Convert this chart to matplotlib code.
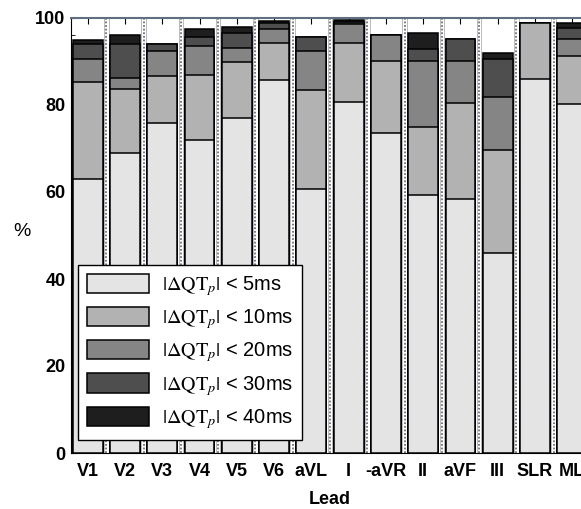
import numpy as np
import matplotlib
matplotlib.use('Agg')
from matplotlib import pyplot as plt
from matplotlib.ticker import MultipleLocator

plt.rcParams['font.family'] = ['Liberation Sans Narrow', 'Liberation Sans', 'DejaVu Sans']
plt.rcParams['mathtext.fontset'] = 'stix'

leads = ['V1', 'V2', 'V3', 'V4', 'V5', 'V6', 'aVL', 'I', '-aVR', 'II', 'aVF', 'III', 'SLR', 'ML']

# cumulative percentage of beats with |dQTp| below each threshold
lt5  = [63.1, 68.9, 75.9, 72.0, 76.9, 85.7, 60.7, 80.8, 73.6, 59.2, 58.4, 46.0, 86.0, 80.2]
lt10 = [85.3, 83.7, 86.7, 87.0, 89.9, 94.3, 83.4, 94.2, 90.0, 74.9, 80.4, 69.7, 98.8, 91.3]
lt20 = [90.5, 86.3, 92.3, 93.5, 93.2, 97.4, 92.3, 98.6, 96.2, 90.2, 90.0, 81.8, 98.8, 95.2]
lt30 = [94.0, 94.0, 94.0, 95.7, 96.5, 98.9, 95.6, 99.1, 96.2, 92.9, 95.1, 90.5, 98.8, 97.8]
lt40 = [95.0, 96.2, 94.0, 97.5, 97.9, 99.2, 95.6, 99.6, 96.2, 96.5, 95.1, 92.0, 98.8, 98.9]

labels = ['5ms', '10ms', '20ms', '30ms', '40ms']
colors = ['#e4e4e4', '#b2b2b2', '#858585', '#4e4e4e', '#1e1e1e']

fig = plt.figure(figsize=(5.81, 5.09), dpi=100)
ax = fig.add_axes([71/581, 56/509, 518/581, 435/509])

x = np.arange(len(leads))
w = 0.80

# separators between bars
for xs in x[:-1] + 0.5:
    ax.plot([xs, xs], [0, 100], color='#707080', lw=1.3, ls=(0, (1, 1)), zorder=1)
    ax.plot([xs - 0.06, xs - 0.06], [0, 100], color='#b0b0b0', lw=0.6, zorder=1)
    ax.plot([xs + 0.06, xs + 0.06], [0, 100], color='#b0b0b0', lw=0.6, zorder=1)

series = [lt5, lt10, lt20, lt30, lt40]
# draw from the top class down so the lower (cumulative) bars sit in front
for k in range(4, -1, -1):
    ax.bar(x, series[k], width=w, color=colors[k], edgecolor='black', lw=1.1,
           zorder=2 + (4 - k), label=r'$|\Delta\mathrm{QT}_p|$ < ' + labels[k])

ax.set_xlim(-0.45, 13.45)
ax.set_ylim(0, 100)
ax.set_xticks(x)
ax.set_xticklabels(leads, fontsize=13, fontweight='bold')
ax.set_yticks(np.arange(0, 101, 20))
ax.set_yticklabels([str(v) for v in range(0, 101, 20)], fontsize=13, fontweight='bold')
ax.yaxis.set_minor_locator(MultipleLocator(4))
ax.tick_params(axis='x', direction='in', top=True, length=4, pad=7)
ax.tick_params(axis='y', which='both', direction='in', length=3, pad=4)
ax.set_xlabel('Lead', fontsize=13, fontweight='bold', labelpad=8)
ax.set_ylabel('%', fontsize=14, rotation=0)
ax.yaxis.set_label_coords(-0.095, 0.49)
ax.spines['top'].set_color('#607080')
ax.spines['top'].set_linewidth(1.5)

h, l = ax.get_legend_handles_labels()
leg = ax.legend(h[::-1], l[::-1], loc='lower left', bbox_to_anchor=(0.0135, 0.03),
                borderaxespad=0, fontsize=14.5, handlelength=3.1, handleheight=1.1,
                labelspacing=0.45, fancybox=False, framealpha=1, edgecolor='black',
                borderpad=0.45, handletextpad=0.6)
leg.get_frame().set_linewidth(1.0)
leg.set_zorder(10)

fig.savefig('out.png', dpi=100)
